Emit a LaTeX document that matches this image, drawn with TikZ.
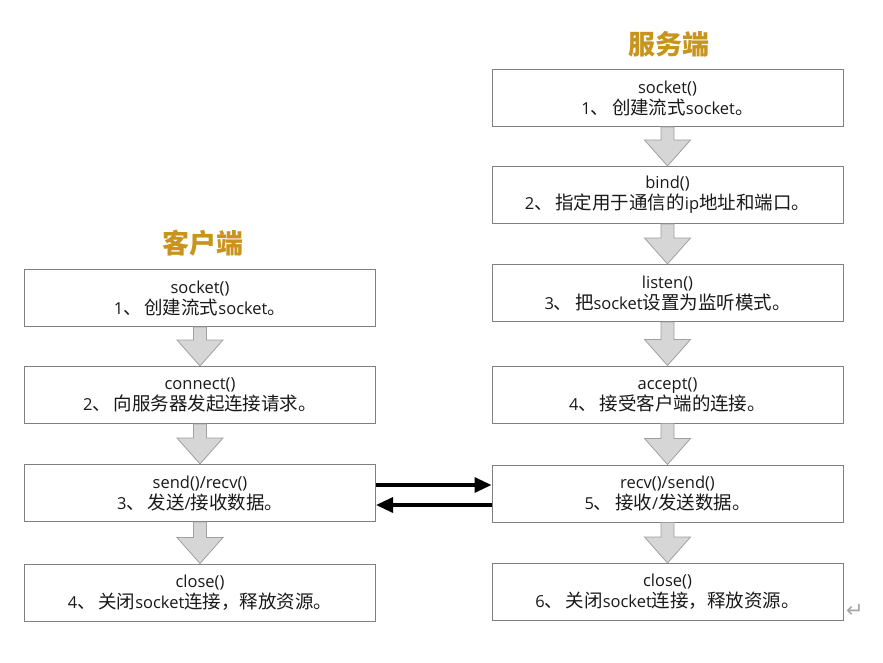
\documentclass[tikz,border=0pt]{standalone}
\usepackage{fontspec}
\setmainfont{Open Sans}
\newfontfamily\zh[Scale=1.12]{Noto Sans CJK SC}
\newfontfamily\zhtitle{Noto Sans CJK SC}
\newfontfamily\symf{DejaVu Sans}
\usetikzlibrary{arrows.meta,calc}
\definecolor{titlegold}{RGB}{200,148,28}
\definecolor{boxline}{RGB}{128,128,128}
\definecolor{txt}{RGB}{25,25,25}
\definecolor{barfill}{RGB}{214,214,214}
\definecolor{barline}{RGB}{160,160,160}
\newcommand{\dun}{{\zh 、}\hspace{0.16em}}
\tikzset{
  stepbox/.style={draw=boxline, line width=1pt, fill=white, minimum width=351pt,
    minimum height=57pt, align=center, text=txt, inner sep=0pt,
    font=\fontsize{16.5}{21}\selectfont},
  titletext/.style={text=titlegold, font=\zhtitle\bfseries\fontsize{27}{30}\selectfont},
  blockbar/.style={draw=barline, fill=barfill, line width=0.8pt, line join=miter},
  flow/.style={-{Triangle[length=17pt,width=15pt]}, line width=3.2pt, black},
  parmark/.style={text=boxline!70, font=\symf\fontsize{21}{21}\selectfont}
}
\newcommand{\blockarrow}[2]{%
  \path[blockbar] let \p1=(#1.south), \p2=(#2.north) in
    (\x1-6.5pt,\y1) -- (\x1-6.5pt,\y2+26pt) -- (\x1-23pt,\y2+26pt) -- (\x2,\y2)
    -- (\x1+23pt,\y2+26pt) -- (\x1+6.5pt,\y2+26pt) -- (\x1+6.5pt,\y1) -- cycle;}
\begin{document}
\begin{tikzpicture}[x=1pt,y=-1pt]
\useasboundingbox (0,0) rectangle (883,663);
% titles
\node[titletext] (tserver) at (669,44) {服务端};
\node[titletext] (tclient) at (203,243) {客户端};
% client boxes
\node[stepbox] (c1) at (200,298) {socket()\\1\dun{\zh 创建流式}socket{\zh 。}};
\node[stepbox] (c2) at (200,395) {connect()\\2\dun{\zh 向服务器发起连接请求。}};
\node[stepbox] (c3) at (200,493) {send()/recv()\\3\dun{\zh 发送}/{\zh 接收数据。}};
\node[stepbox] (c4) at (200,592.5) {close()\\4\dun{\zh 关闭}socket{\zh 连接，释放资源。}};
% server boxes
\node[stepbox] (s1) at (667.5,98) {socket()\\1\dun{\zh 创建流式}socket{\zh 。}};
\node[stepbox] (s2) at (667.5,195) {bind()\\2\dun{\zh 指定用于通信的}ip{\zh 地址和端口。}};
\node[stepbox] (s3) at (667.5,293) {listen()\\3\dun{\zh 把}socket{\zh 设置为监听模式。}};
\node[stepbox] (s4) at (667.5,394.5) {accept()\\4\dun{\zh 接受客户端的连接。}};
\node[stepbox] (s5) at (667.5,493.5) {recv()/send()\\5\dun{\zh 接收}/{\zh 发送数据。}};
\node[stepbox] (s6) at (667.5,592) {close()\\6\dun{\zh 关闭}socket{\zh 连接，释放资源。}};
% block arrows
\blockarrow{c1}{c2}
\blockarrow{c2}{c3}
\blockarrow{c3}{c4}
\blockarrow{s1}{s2}
\blockarrow{s2}{s3}
\blockarrow{s3}{s4}
\blockarrow{s4}{s5}
\blockarrow{s5}{s6}
% data exchange arrows
\draw[flow] ([yshift=8pt]c3.east) -- ([yshift=8.5pt]s5.west);
\draw[flow] ([yshift=-11.5pt]s5.west) -- ([yshift=-12pt]c3.east);
% paragraph mark
\node[parmark] (pm) at (855,611) {↵};
\end{tikzpicture}
\end{document}
